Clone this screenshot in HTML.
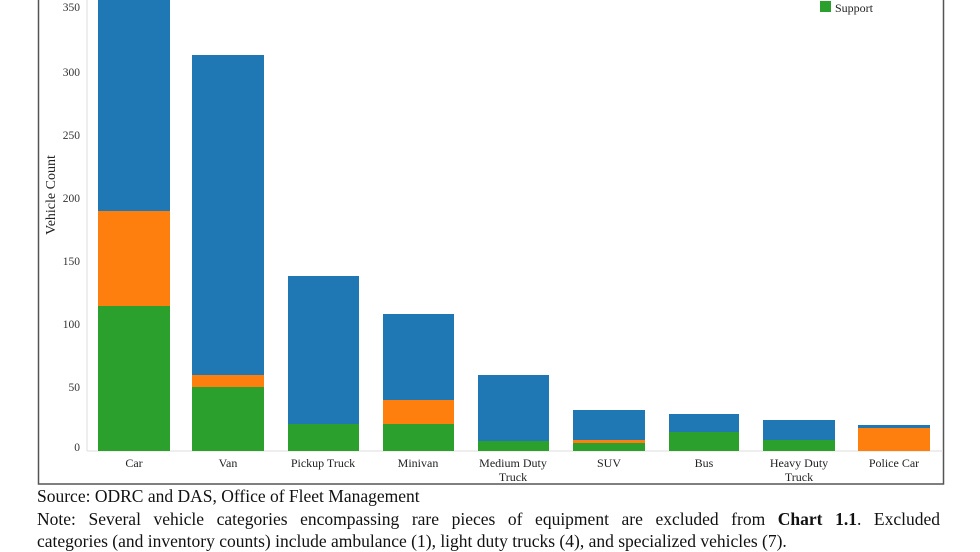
<!DOCTYPE html>
<html><head><meta charset="utf-8"><style>
body{margin:0;background:#fff;width:980px;height:552px;overflow:hidden;font-family:"Liberation Serif",serif;}
.t{position:absolute;left:37px;font-size:17.5px;color:#111;white-space:nowrap;}
</style></head><body>
<svg width="980" height="552" style="position:absolute;left:0;top:0" font-family="Liberation Serif, serif">
<rect x="38.5" y="-5" width="905" height="489" fill="none" stroke="#555" stroke-width="1.5"/>
<line x1="87" y1="0" x2="87" y2="451" stroke="#ddd"/>
<line x1="87" y1="451" x2="943" y2="451" stroke="#ddd"/>
<g font-size="11.5" fill="#333" text-anchor="end">
<text x="80" y="11">350</text><text x="80" y="76">300</text><text x="80" y="139">250</text><text x="80" y="202">200</text><text x="80" y="265">150</text><text x="80" y="328">100</text><text x="80" y="391">50</text><text x="80" y="451">0</text>
</g>
<text transform="translate(55,195) rotate(-90)" font-size="14" text-anchor="middle" fill="#222">Vehicle Count</text>
<g>
<rect x="98" y="0" width="72" height="211" fill="#1f77b4"/><rect x="98" y="211" width="72" height="95" fill="#ff7f0e"/><rect x="98" y="306" width="72" height="145" fill="#2ca02c"/>
<rect x="192" y="55" width="72" height="320" fill="#1f77b4"/><rect x="192" y="375" width="72" height="12" fill="#ff7f0e"/><rect x="192" y="387" width="72" height="64" fill="#2ca02c"/>
<rect x="288" y="276" width="71" height="148" fill="#1f77b4"/><rect x="288" y="424" width="71" height="27" fill="#2ca02c"/>
<rect x="383" y="314" width="71" height="86" fill="#1f77b4"/><rect x="383" y="400" width="71" height="24" fill="#ff7f0e"/><rect x="383" y="424" width="71" height="27" fill="#2ca02c"/>
<rect x="478" y="375" width="71" height="66" fill="#1f77b4"/><rect x="478" y="441" width="71" height="10" fill="#2ca02c"/>
<rect x="573" y="410" width="72" height="30" fill="#1f77b4"/><rect x="573" y="440" width="72" height="3" fill="#ff7f0e"/><rect x="573" y="443" width="72" height="8" fill="#2ca02c"/>
<rect x="669" y="414" width="70" height="18" fill="#1f77b4"/><rect x="669" y="432" width="70" height="19" fill="#2ca02c"/>
<rect x="763" y="420" width="72" height="20" fill="#1f77b4"/><rect x="763" y="440" width="72" height="11" fill="#2ca02c"/>
<rect x="858" y="425" width="72" height="3" fill="#1f77b4"/><rect x="858" y="428" width="72" height="23" fill="#ff7f0e"/>
</g>
<g font-size="12" fill="#222" text-anchor="middle">
<text x="134" y="467">Car</text><text x="228" y="467">Van</text><text x="323" y="467">Pickup Truck</text><text x="418" y="467">Minivan</text>
<text x="513" y="467">Medium Duty</text><text x="513" y="481">Truck</text><text x="609" y="467">SUV</text><text x="704" y="467">Bus</text>
<text x="799" y="467">Heavy Duty</text><text x="799" y="481">Truck</text><text x="894" y="467">Police Car</text>
</g>
<rect x="820" y="1" width="11" height="11" fill="#2ca02c"/>
<text x="835" y="12" font-size="12" fill="#222">Support</text>
</svg>
<div class="t" style="top:486px">Source: ODRC and DAS, Office of Fleet Management</div>
<div class="t" style="top:509px;width:903px;text-align:justify;text-align-last:justify;white-space:normal">Note: Several vehicle categories encompassing rare pieces of equipment are excluded from <b>Chart 1.1</b>. Excluded</div>
<div class="t" style="top:531px">categories (and inventory counts) include ambulance (1), light duty trucks (4), and specialized vehicles (7).</div>
</body></html>
